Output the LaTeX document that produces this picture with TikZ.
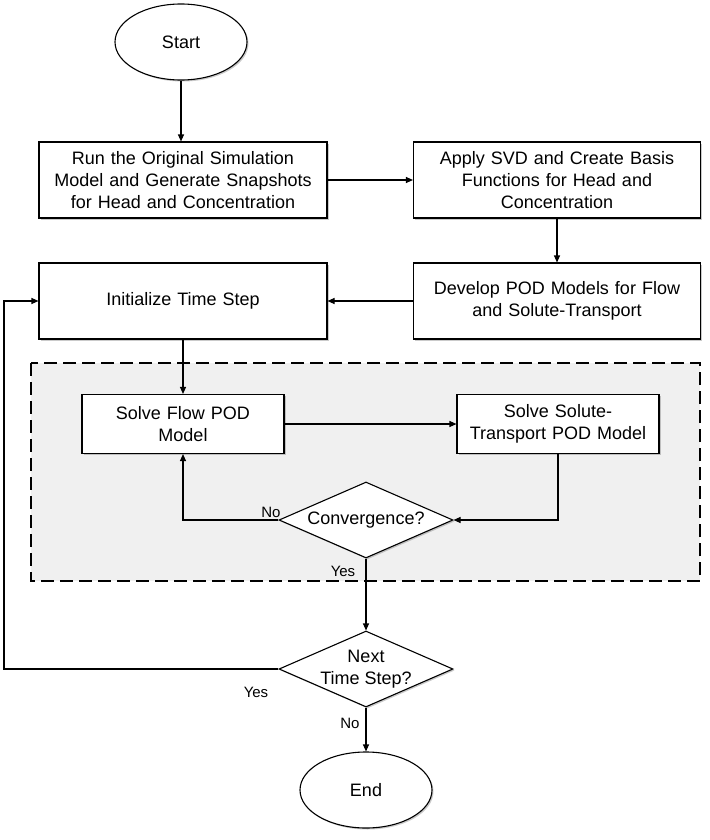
\documentclass[tikz,border=0pt]{standalone}
\usepackage{fontspec}
\setmainfont{Liberation Sans}
\usetikzlibrary{shapes.geometric,arrows.meta,shadows}
\begin{document}
\begin{tikzpicture}[x=1pt,y=-1pt,
  every node/.style={font=\fontsize{18}{22}\selectfont},
  shad/.style={drop shadow={shadow xshift=1.5pt,shadow yshift=-1.5pt,opacity=0.35,fill=black!60}},
  procbox/.style={draw,line width=1.1pt,fill=white,shad,align=center,inner sep=2pt},
  term/.style={draw,ellipse,line width=1.1pt,fill=white,shad,minimum width=132pt,minimum height=76pt,inner sep=0pt},
  decide/.style={draw,diamond,line width=1.1pt,fill=white,shad,align=center,inner sep=-4pt,shape aspect=2.3,minimum width=174pt,minimum height=76pt},
  conn/.style={line width=1.1pt,-{Triangle[length=7pt,width=6pt]}},
  lbl/.style={font=\fontsize{15}{17}\selectfont,inner sep=0pt}
]
\useasboundingbox (0,0) rectangle (709,840);
\draw[fill=black!6,line width=1.1pt,dash pattern=on 13pt off 6pt] (31,363) rectangle (700,581);

\node[term] (start) at (181,42) {Start};
\node[procbox,minimum width=288pt,minimum height=76pt,text width=282pt] (run) at (183,180) {Run the Original Simulation\\Model and Generate Snapshots\\for Head and Concentration};
\node[procbox,minimum width=287pt,minimum height=76pt,text width=282pt] (svd) at (557,180) {Apply SVD and Create Basis\\Functions for Head and\\Concentration};
\node[procbox,minimum width=287pt,minimum height=76pt,text width=282pt] (dev) at (557,301) {Develop POD Models for Flow\\and Solute-Transport};
\node[procbox,minimum width=288pt,minimum height=76pt,text width=282pt] (init) at (183,301) {Initialize Time Step};
\node[procbox,minimum width=202pt,minimum height=59pt,text width=196pt] (flow) at (183,424) {Solve Flow POD\\Model};
\node[procbox,minimum width=202pt,minimum height=59pt,text width=196pt] (sol) at (558,424) {Solve Solute-\\Transport POD Model};
\node[decide] (conv) at (366,520) {Convergence?};
\node[decide] (next) at (366,669) {Next\\Time Step?};
\node[term] (end) at (366,790) {End};
\coordinate (back) at (4,669);

\draw[conn] (start) -- (start |- run.north);
\draw[conn] (run) -- (svd);
\draw[conn] (svd) -- (dev);
\draw[conn] (dev) -- (init);
\draw[conn] (init) -- (flow);
\draw[conn] (flow) -- (sol);
\draw[conn] (sol.south) |- (conv.east);
\draw[conn] (conv.west) -| (flow.south);
\draw[conn] (conv.south) -- (next.north);
\draw[conn] (next.west) -- (back) |- (init.west);
\draw[conn] (next.south) -- (end.north);

\node[lbl] (lno1) at (271,512) {No};
\node[lbl] (lyes1) at (343,571) {Yes};
\node[lbl] (lyes2) at (256,692) {Yes};
\node[lbl] (lno2) at (350,723) {No};
\end{tikzpicture}
\end{document}
